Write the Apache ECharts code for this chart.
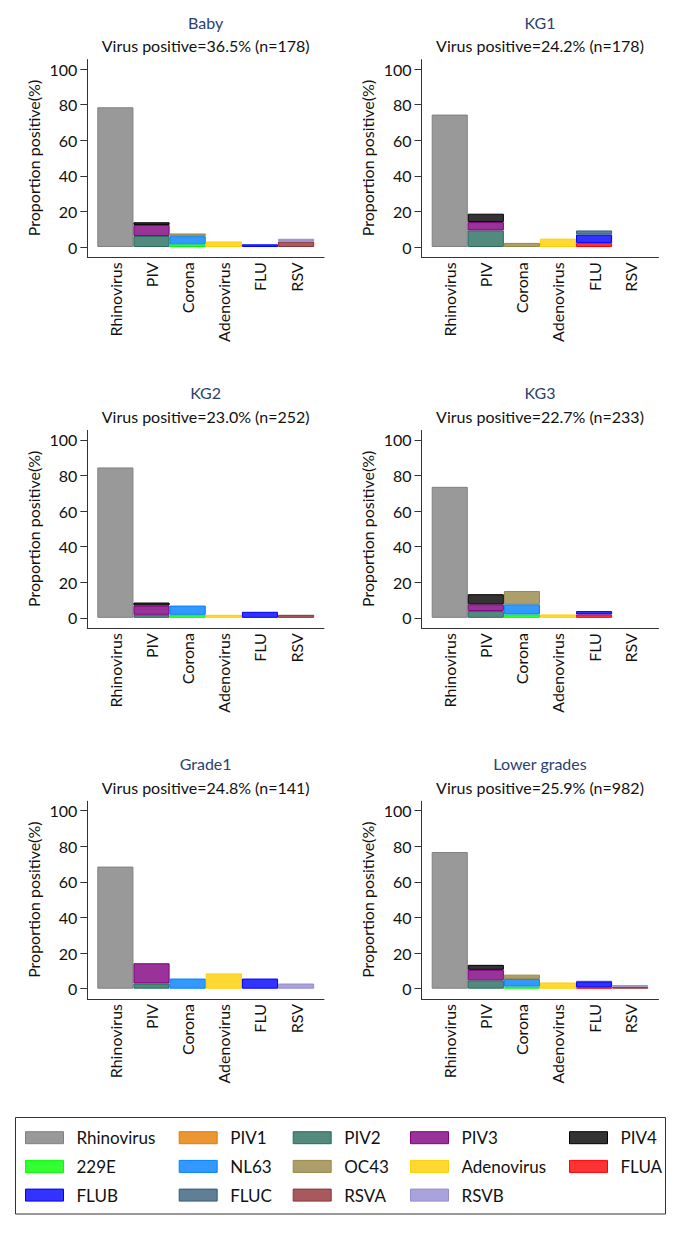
<!DOCTYPE html>
<html><head><meta charset="utf-8">
<script src="https://cdn.jsdelivr.net/npm/echarts@6/dist/echarts.min.js"></script>
<style>html,body{margin:0;padding:0;background:#fff}#c{width:678px;height:1241px}</style>
</head><body><div id="c"></div>
<script>
// ---------- DATA ----------
const panels = ['Baby', 'KG1', 'KG2', 'KG3', 'Grade1', 'Lower grades'];
const positivePct = ['36.5', '24.2', '23.0', '22.7', '24.8', '25.9'];
const sampleN = [178, 178, 252, 233, 141, 982];
const categories = ['Rhinovirus', 'PIV', 'Corona', 'Adenovirus', 'FLU', 'RSV'];
const yTicks = [0, 20, 40, 60, 80, 100];
// proportion (%) of positives, one value per panel (order of `panels`)
const Rhinovirus = [78.5, 74.4, 84.5, 73.6, 68.6, 76.8];
const PIV1 = [0, 0, 0, 0, 0, 0];
const PIV2 = [6.2, 9.3, 1.7, 3.8, 2.9, 4.7];
const PIV3 = [6.2, 4.7, 5.2, 3.8, 11.4, 5.9];
const PIV4 = [1.5, 4.7, 1.7, 5.7, 0, 2.8];
const V229E = [1.5, 0, 1.7, 1.9, 0, 1.2];
const NL63 = [4.6, 0, 5.2, 5.7, 5.7, 4.3];
const OC43 = [1.5, 2.3, 0, 7.5, 0, 2.4];
const Adenovirus = [3.1, 4.7, 1.7, 1.9, 8.6, 3.5];
const FLUA = [0, 2.3, 0, 1.9, 0, 0.8];
const FLUB = [1.5, 4.7, 3.4, 1.9, 5.7, 3.1];
const FLUC = [0, 2.3, 0, 0, 0, 0.4];
const RSVA = [3.1, 0, 1.7, 0, 0, 1.2];
const RSVB = [1.5, 0, 0, 0, 2.9, 0.8];

// virus -> category group, values, base colour
const viruses = [
  { name: 'Rhinovirus', group: 'Rhinovirus', values: Rhinovirus, rgb: [128, 128, 128] },
  { name: 'PIV1', group: 'PIV', values: PIV1, rgb: [230, 124, 0] },
  { name: 'PIV2', group: 'PIV', values: PIV2, rgb: [39, 109, 94] },
  { name: 'PIV3', group: 'PIV', values: PIV3, rgb: [128, 0, 128] },
  { name: 'PIV4', group: 'PIV', values: PIV4, rgb: [0, 0, 0] },
  { name: '229E', group: 'Corona', values: V229E, rgb: [0, 255, 0] },
  { name: 'NL63', group: 'Corona', values: NL63, rgb: [0, 128, 255] },
  { name: 'OC43', group: 'Corona', values: OC43, rgb: [153, 135, 70] },
  { name: 'Adenovirus', group: 'Adenovirus', values: Adenovirus, rgb: [255, 207, 0] },
  { name: 'FLUA', group: 'FLU', values: FLUA, rgb: [255, 0, 0] },
  { name: 'FLUB', group: 'FLU', values: FLUB, rgb: [0, 0, 255] },
  { name: 'FLUC', group: 'FLU', values: FLUC, rgb: [55, 95, 121] },
  { name: 'RSVA', group: 'RSV', values: RSVA, rgb: [144, 49, 54] },
  { name: 'RSVB', group: 'RSV', values: RSVB, rgb: [148, 140, 211] }
];
const legendColumns = [
  ['Rhinovirus', '229E', 'FLUB'],
  ['PIV1', 'NL63', 'FLUC'],
  ['PIV2', 'OC43', 'RSVA'],
  ['PIV3', 'Adenovirus', 'RSVB'],
  ['PIV4', 'FLUA']
];

// ---------- LAYOUT ----------
const FONT = 'Lato, "Open Sans", sans-serif';
const TXT = '#111';
const AX = '#333';
const colFrame = [[87.3, 324], [421.5, 658.5]];
const colBars = [[97.3, 314.2], [431.7, 648.2]];
const rowY0 = r => 247 + 370.85 * r;
const PX_PER_UNIT = 1.78;
const legendLeft = [25, 178.7, 292.7, 410, 569];

const grid = [], xAxis = [], yAxis = [], series = [], graphic = [];
panels.forEach((pname, p) => {
  const col = p % 2, row = Math.floor(p / 2);
  const y0 = rowY0(row);
  const y100 = y0 - 100 * PX_PER_UNIT;
  const fTop = y0 - 105.3 * PX_PER_UNIT, fBot = y0 + 10.3;
  const [fl, fr] = colFrame[col];
  const [bl, br] = colBars[col];
  grid.push({ left: fl, top: fTop, width: fr - fl, height: fBot - fTop });
  grid.push({ left: bl, top: y100, width: br - bl, height: y0 - y100 });
  const gF = 2 * p, gB = 2 * p + 1;
  xAxis.push({ gridIndex: gF, type: 'value', min: 0, max: 1, axisLine: { show: true, lineStyle: { color: AX, width: 1 } },
    axisTick: { show: false }, axisLabel: { show: false }, splitLine: { show: false } });
  yAxis.push({ gridIndex: gF, type: 'value', min: 0, max: 1, axisLine: { show: true, lineStyle: { color: AX, width: 1 } },
    axisTick: { show: false }, axisLabel: { show: false }, splitLine: { show: false } });
  xAxis.push({ gridIndex: gB, type: 'category', data: categories, offset: fBot - y0,
    axisLine: { show: false }, axisTick: { show: false },
    axisLabel: { rotate: 90, margin: 5, interval: 0, fontSize: 16, fontFamily: FONT, color: TXT } });
  yAxis.push({ gridIndex: gB, type: 'value', min: yTicks[0], max: yTicks[yTicks.length - 1], interval: yTicks[1] - yTicks[0],
    offset: bl - fl, axisLine: { show: false },
    axisTick: { show: true, length: 7, lineStyle: { color: AX } },
    axisLabel: { fontSize: 16, margin: 10, fontFamily: FONT, color: TXT },
    splitLine: { show: false },
    name: 'Proportion positive(%)', nameLocation: 'middle', nameGap: 46,
    nameTextStyle: { fontSize: 16, fontFamily: FONT, color: TXT } });
  viruses.forEach(v => {
    const val = v.values[p];
    series.push({
      type: 'bar', name: v.name, xAxisIndex: gB, yAxisIndex: gB, stack: 's' + p,
      barCategoryGap: '0%', silent: true,
      itemStyle: { color: `rgba(${v.rgb.join(',')},0.8)`, borderColor: `rgb(${v.rgb.join(',')})`, borderWidth: 1 },
      data: categories.map(c => (c === v.group && val > 0) ? val : '-')
    });
  });
  const cx = (fl + fr) / 2;
  graphic.push({ type: 'text', x: cx, y: y0 - 225, style: { text: pname, align: 'center', verticalAlign: 'middle',
    font: `16px ${FONT}`, fill: '#2b4170' } });
  graphic.push({ type: 'text', x: cx, y: y0 - 201.3, style: { text: `Virus positive=${positivePct[p]}% (n=${sampleN[p]})`,
    align: 'center', verticalAlign: 'middle', font: `16px ${FONT}`, fill: TXT } });
});

graphic.push({ type: 'rect', shape: { x: 15.5, y: 1117.5, width: 650, height: 96.5 },
  style: { fill: 'none', stroke: AX, lineWidth: 1 } });

const legend = legendColumns.map((names, i) => ({
  orient: 'vertical', left: legendLeft[i], top: 1128.7, padding: 0,
  itemWidth: 38, itemHeight: 12, itemGap: 10.7, icon: 'rect', selectedMode: false,
  data: names,
  itemStyle: { borderWidth: 1 },
  textStyle: { fontSize: 17, lineHeight: 18, fontFamily: FONT, color: TXT, padding: [0, 0, 0, 8] }
}));

const chart = echarts.init(document.getElementById('c'), null, { renderer: 'svg', width: 678, height: 1241 });
chart.setOption({
  animation: false,
  backgroundColor: '#fff',
  grid, xAxis, yAxis, series, legend, graphic
});
</script>
</body></html>
